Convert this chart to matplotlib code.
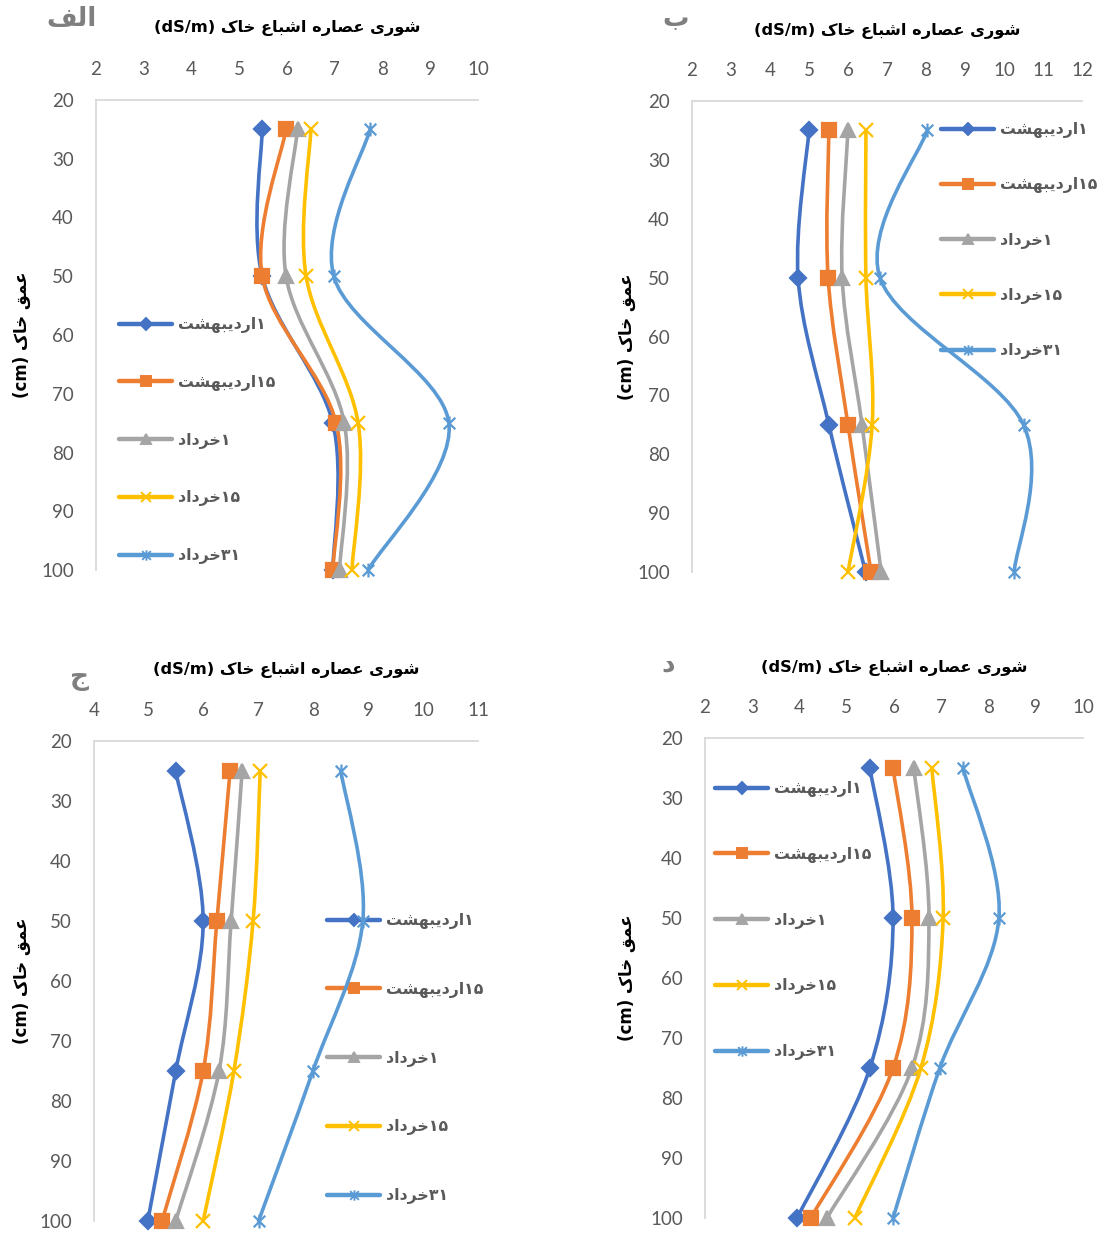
"""
Soil salinity vs depth, four panels (Excel-style smoothed lines).
"""
import re
import numpy as np
import matplotlib
matplotlib.use("Agg")
import matplotlib.pyplot as plt
from matplotlib.path import Path
from matplotlib.patches import PathPatch
from matplotlib.lines import Line2D

# ---- data -------------------------------------------------------------
depths = [25, 50, 75, 100]

series_names = ["۱اردیبهشت", "۱۵اردیبهشت", "۱خرداد", "۱۵خرداد", "۳۱خرداد"]

# panel الف
alef_vals = [
    [5.48, 5.48, 6.96, 6.96],
    [5.98, 5.48, 7.03, 6.96],
    [6.22, 5.98, 7.20, 7.10],
    [6.50, 6.40, 7.49, 7.36],
    [7.74, 6.98, 9.39, 7.70],
]
# panel ب
be_vals = [
    [5.00, 4.72, 5.51, 6.45],
    [5.51, 5.49, 6.00, 6.59],
    [6.00, 5.85, 6.36, 6.85],
    [6.46, 6.46, 6.62, 6.00],
    [8.03, 6.82, 10.50, 10.26],
]
# panel ج
jim_vals = [
    [5.49, 5.99, 5.49, 4.98],
    [6.48, 6.24, 5.99, 5.24],
    [6.70, 6.50, 6.28, 5.49],
    [7.03, 6.90, 6.55, 5.99],
    [8.50, 8.90, 7.99, 7.00],
]
# panel د
dal_vals = [
    [5.49, 5.98, 5.49, 3.95],
    [5.98, 6.38, 5.98, 4.24],
    [6.42, 6.74, 6.38, 4.58],
    [6.80, 7.04, 6.57, 5.17],
    [7.46, 8.22, 6.97, 5.98],
]

panel_letters = ["الف", "ب", "ج", "د"]
x_limits = [(2, 10), (2, 12), (4, 11), (2, 10)]
x_title = "شوری عصاره اشباع خاک"
y_title = "عمق خاک"

colors = ["#4472C4", "#ED7D31", "#A5A5A5", "#FFC000", "#5B9BD5"]

# asterisk marker like Excel's "star"
star_marker = Path([(-1, -1), (1, 1), (-1, 1), (1, -1), (0, -1.2), (0, 1.2)],
                   [Path.MOVETO, Path.LINETO, Path.MOVETO, Path.LINETO,
                    Path.MOVETO, Path.LINETO])
markers = ["D", "s", "^", "x", star_marker]
marker_sizes = [8, 9.5, 9.5, 10, 10]

# ---- minimal persian shaping (matplotlib has no bidi/shaping) -----------
FORMS = {
    "ا": ("\uFE8D", "\uFE8E", None, None),
    "ب": ("\uFE8F", "\uFE90", "\uFE91", "\uFE92"),
    "ت": ("\uFE95", "\uFE96", "\uFE97", "\uFE98"),
    "ج": ("\uFE9D", "\uFE9E", "\uFE9F", "\uFEA0"),
    "خ": ("\uFEA5", "\uFEA6", "\uFEA7", "\uFEA8"),
    "د": ("\uFEA9", "\uFEAA", None, None),
    "ر": ("\uFEAD", "\uFEAE", None, None),
    "ش": ("\uFEB5", "\uFEB6", "\uFEB7", "\uFEB8"),
    "ص": ("\uFEB9", "\uFEBA", "\uFEBB", "\uFEBC"),
    "ع": ("\uFEC9", "\uFECA", "\uFECB", "\uFECC"),
    "ف": ("\uFED1", "\uFED2", "\uFED3", "\uFED4"),
    "ق": ("\uFED5", "\uFED6", "\uFED7", "\uFED8"),
    "ک": ("\uFB8E", "\uFB8F", "\uFB90", "\uFB91"),
    "ل": ("\uFEDD", "\uFEDE", "\uFEDF", "\uFEE0"),
    "م": ("\uFEE1", "\uFEE2", "\uFEE3", "\uFEE4"),
    "ه": ("\uFEE9", "\uFEEA", "\uFEEB", "\uFEEC"),
    "و": ("\uFEED", "\uFEEE", None, None),
    "ی": ("\uFBFC", "\uFBFD", "\uFBFE", "\uFBFF"),
}
DIGITS = "۰۱۲۳۴۵۶۷۸۹0123456789"


def farsi(text):
    shaped = []
    for i, ch in enumerate(text):
        if ch not in FORMS:
            shaped.append(ch)
            continue
        prev = text[i - 1] if i > 0 else ""
        nxt = text[i + 1] if i + 1 < len(text) else ""
        iso, fin, ini, med = FORMS[ch]
        join_prev = prev in FORMS and FORMS[prev][2] is not None
        join_next = ini is not None and nxt in FORMS
        if join_prev and join_next:
            shaped.append(med)
        elif join_prev:
            shaped.append(fin)
        elif join_next:
            shaped.append(ini)
        else:
            shaped.append(iso)
    runs = re.findall(r"[%s]+|[^%s]+" % (DIGITS, DIGITS), "".join(shaped))
    return "".join(r if r[0] in DIGITS else r[::-1] for r in reversed(runs))


def smooth_path(xs, ys):
    # Excel-like smoothed line: cubic bezier, catmull-rom tangents / 6
    pts = np.column_stack([xs, ys]).astype(float)
    n = len(pts)
    verts = [pts[0]]
    codes = [Path.MOVETO]
    for i in range(n - 1):
        p_prev = pts[i - 1] if i > 0 else pts[i]
        p_next2 = pts[i + 2] if i + 2 < n else pts[i + 1]
        c1 = pts[i] + (pts[i + 1] - p_prev) / 6.0
        c2 = pts[i + 1] - (p_next2 - pts[i]) / 6.0
        verts += [c1, c2, pts[i + 1]]
        codes += [Path.CURVE4] * 3
    return Path(verts, codes)


# ---- layout (pixels of the 1101x1233 reference) ------------------------
W, H = 1101, 1233
# left, top, right, bottom of plot areas
boxes = [(96, 100, 478, 570), (692, 101, 1082, 572),
         (94, 741, 478, 1221), (705, 738, 1083, 1218)]
# legend anchor (px) and row spacing (px)
legend_pos = [(119, 317, 57.5), (941, 122, 55), (327, 913, 68.5), (715, 781, 65.5)]
letter_pos = [(72, 19), (676, 19), (80, 678), (668, 664)]
title_y = [28, 31, 670, 668]
ylabel_x = [22, 627, 22, 627]

all_vals = [alef_vals, be_vals, jim_vals, dal_vals]

plt.rcParams["font.family"] = ["Lato", "DejaVu Sans"]
fig = plt.figure(figsize=(W / 100, H / 100), dpi=100)

tick_color = "#595959"
arabic_font = ["DejaVu Sans"]

for k, vals in enumerate(all_vals):
    l, t, r, b = boxes[k]
    ax = fig.add_axes([l / W, 1 - b / H, (r - l) / W, (b - t) / H])
    ax.set_xlim(*x_limits[k])
    ax.set_ylim(100, 20)
    ax.xaxis.tick_top()
    ax.set_xticks(range(x_limits[k][0], x_limits[k][1] + 1))
    ax.set_yticks(range(20, 101, 10))
    ax.tick_params(axis="both", length=0, labelsize=13.5, labelcolor=tick_color)
    ax.tick_params(axis="x", pad=16)
    ax.tick_params(axis="y", pad=16)
    for side in ["right", "bottom"]:
        ax.spines[side].set_visible(False)
    for side in ["top", "left"]:
        ax.spines[side].set_color("#D9D9D9")
        ax.spines[side].set_linewidth(1.3)

    handles = []
    for s, v in enumerate(vals):
        patch = PathPatch(smooth_path(v, depths), facecolor="none",
                          edgecolor=colors[s], lw=2.6, zorder=2 + s,
                          capstyle="round", clip_on=False)
        ax.add_patch(patch)
        ax.plot(v, depths, linestyle="none", marker=markers[s],
                ms=marker_sizes[s], color=colors[s], mec=colors[s],
                mew=1.6, zorder=2 + s, clip_on=False)
        handles.append(Line2D([], [], color=colors[s], lw=3.2,
                              marker=markers[s], ms=marker_sizes[s] * 0.75,
                              mew=1.4, solid_capstyle="round"))

    # x title on top, y title on the left
    ax.annotate("(dS/m) " + farsi(x_title), xy=(0.5, 1), xycoords="axes fraction",
                xytext=(0, (t - title_y[k]) * 0.72),
                textcoords="offset points", ha="center", va="center",
                fontsize=11.7, fontweight="bold", color="black", family=arabic_font)
    ax.annotate("(cm) " + farsi(y_title), xy=(0, 0.5), xycoords="axes fraction",
                xytext=(-(l - ylabel_x[k]) * 0.72, 0),
                textcoords="offset points", ha="center", va="center",
                rotation=90, fontsize=12, fontweight="bold", color="black",
                family=arabic_font)

    lx, ly, spacing = legend_pos[k]
    fs = 11.3
    leg = ax.legend(handles, [farsi(n) for n in series_names],
                    loc="upper left",
                    bbox_to_anchor=((lx - l) / (r - l), 1 - (ly - t) / (b - t)),
                    frameon=False, borderpad=0, borderaxespad=0,
                    handlelength=3.4, handletextpad=0.35,
                    labelspacing=(spacing - fs / 0.72) / (fs / 0.72),
                    prop={"family": arabic_font, "weight": "bold", "size": fs})
    for txt in leg.get_texts():
        txt.set_color(tick_color)

    lx2, ly2 = letter_pos[k]
    fig.text(lx2 / W, 1 - ly2 / H, farsi(panel_letters[k]), ha="center",
             va="center", fontsize=19, fontweight="bold", color="#7F7F7F",
             family=arabic_font)

fig.savefig("out.png", dpi=100)
